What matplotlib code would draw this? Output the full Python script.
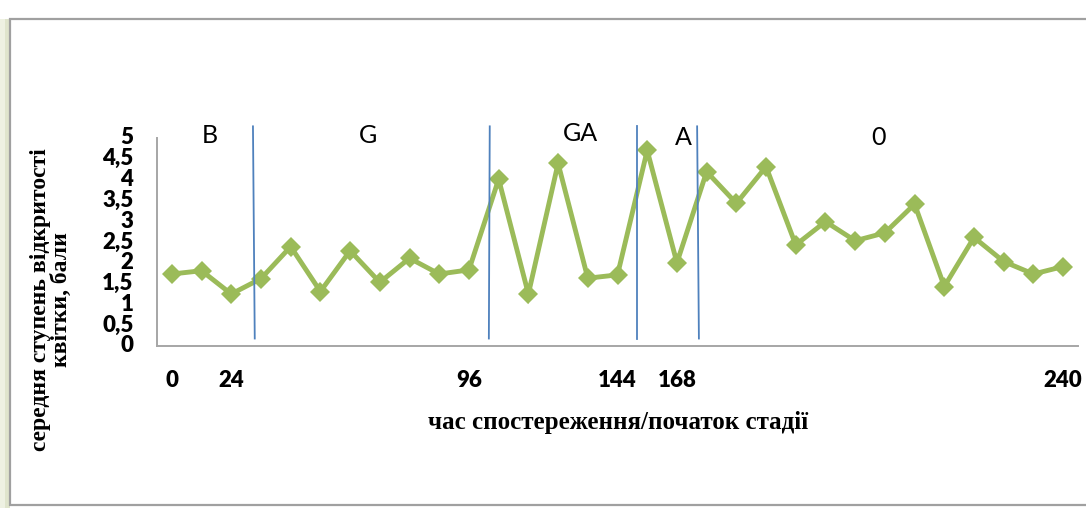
import matplotlib
matplotlib.use("Agg")
import matplotlib.pyplot as plt
from matplotlib.patches import Rectangle
from matplotlib.lines import Line2D
import numpy as np

# Mean flower-opening score for each observation point
scores = [1.73, 1.81, 1.25, 1.62, 2.39, 1.31, 2.29, 1.53, 2.11, 1.73, 1.83,
          4.01, 1.25, 4.39, 1.63, 1.71, 4.70, 2.00, 4.19, 3.43, 4.31, 2.43,
          2.99, 2.53, 2.72, 3.41, 1.43, 2.61, 2.03, 1.73, 1.91]

# Category labels (hours); only stage starts are labelled
hour_labels = ["0", "", "24", "", "", "", "", "", "", "", "96",
               "", "", "", "", "144", "", "168", "", "", "", "",
               "", "", "", "", "", "", "", "", "240"]

y_ticks = [0, 0.5, 1, 1.5, 2, 2.5, 3, 3.5, 4, 4.5, 5]
y_tick_labels = ["0", "0,5", "1", "1,5", "2", "2,5", "3", "3,5", "4", "4,5", "5"]

# Stage names and the category positions of the hand-drawn stage boundaries
stage_names = ["B", "G", "GA", "A", "0"]
stage_label_x = [1.28, 6.6, 13.74, 17.2, 23.77]
stage_label_y = [5.07, 5.07, 5.12, 5.02, 5.02]
boundary_top_x = [2.73, 10.70, 15.66, 17.68]
boundary_bottom_x = [2.79, 10.67, 15.66, 17.74]

W, H = 1086, 508
fig = plt.figure(figsize=(W / 100, H / 100), dpi=100)
fig.patch.set_facecolor("white")

# Chart frame with a soft shadow on the left
fig.patches.append(Rectangle((0, 0), 10 / W, 1 - 19 / H, transform=fig.transFigure,
                             facecolor="#eef1e2", edgecolor="none", zorder=0))
fig.patches.append(Rectangle((5 / W, 0), 5 / W, 1 - 19 / H, transform=fig.transFigure,
                             facecolor="#dfe4cc", edgecolor="none", zorder=0))
fig.patches.append(Rectangle((10 / W, 3 / H), 1.2, (H - 22) / H,
                             transform=fig.transFigure, facecolor="white",
                             edgecolor="#a0a0a0", linewidth=1.6, zorder=0))

ax = fig.add_axes([157 / W, (H - 346) / H, (1078 - 157) / W, (346 - 138) / H])
ax.set_zorder(2)
ax.set_facecolor("none")

x = np.arange(len(scores))
ax.plot(x, scores, color="#9BBB59", linewidth=3.5, marker="D",
        markersize=9.8, markeredgewidth=0, solid_joinstyle="miter", zorder=3)

ax.set_xlim(-0.5, len(scores) - 0.5)
ax.set_ylim(0, 5)
ax.set_xticks(x)
ax.set_xticklabels(hour_labels, fontfamily="Lato", fontweight="heavy", fontsize=16)
ax.set_yticks(y_ticks)
ax.set_yticklabels(y_tick_labels, fontfamily="Lato", fontweight="heavy", fontsize=16)
ax.tick_params(axis="x", length=0, pad=17)
ax.tick_params(axis="y", length=0, pad=17)
for lab in ax.get_yticklabels():
    lab.set_verticalalignment("center")

for side in ("top", "right"):
    ax.spines[side].set_visible(False)
for side in ("left", "bottom"):
    ax.spines[side].set_color("#a6a6a6")
    ax.spines[side].set_linewidth(1.4)

# Stage boundaries
for xt, xb in zip(boundary_top_x, boundary_bottom_x):
    ax.add_line(Line2D([xt, xb], [5.28, 0.18], color="#4F81BD", linewidth=1.3,
                       clip_on=False, zorder=4))

# Stage names
for name, sx, sy in zip(stage_names, stage_label_x, stage_label_y):
    ax.text(sx, sy, name, ha="center", va="center", fontfamily="Lato",
            fontsize=18, color="black", clip_on=False)

# Axis titles
fig.text(51 / W, 1 - 300 / H, "середня ступень відкритості\nквітки, бали",
         rotation=90, ha="center", va="center", multialignment="center",
         fontfamily="Liberation Serif", fontweight="bold", fontsize=17,
         linespacing=0.95)
fig.text(618 / W, 1 - 423 / H, "час спостереження/початок стадії",
         ha="center", va="center", fontfamily="Liberation Serif",
         fontweight="bold", fontsize=18)

fig.savefig("out.png", dpi=100, facecolor="white")
